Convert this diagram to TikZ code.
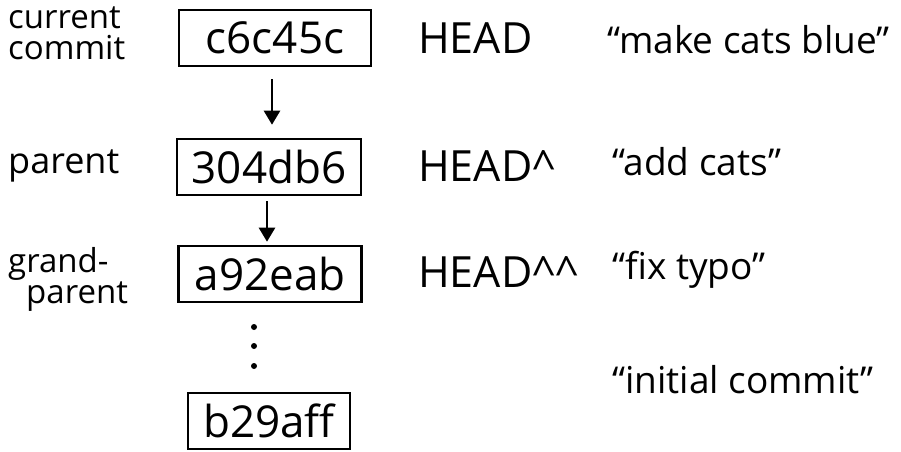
\documentclass[tikz,border=0pt]{standalone}
\usepackage{fontspec}
\setmainfont{Open Sans}
\usetikzlibrary{arrows.meta}
\tikzset{
  commitbox/.style={draw, line width=2.6pt, inner sep=0pt, minimum height=56pt, font=\fontsize{44}{48}\selectfont},
  sidelabel/.style={align=left, font=\fontsize{33}{31}\selectfont, inner sep=0pt},
  headlabel/.style={anchor=west, inner sep=0pt, font=\fontsize{43}{46}\selectfont},
  msglabel/.style={anchor=west, inner sep=0pt, font=\fontsize{37}{40}\selectfont},
  parentarrow/.style={line width=2.6pt, -{Triangle[length=14pt,width=16pt]}},
  dotmark/.style={circle, fill, inner sep=0pt, minimum size=6pt}
}
\begin{document}
\begin{tikzpicture}[x=1pt,y=-1pt]
\useasboundingbox (0,0) rectangle (901,451);
% commit boxes
\node[commitbox, minimum width=192pt] (c1) at (275,38) {c6c45c};
\node[commitbox, minimum width=184pt] (c2) at (269,167) {304db6};
\node[commitbox, minimum width=183pt] (c3) at (270,274) {a92eab};
\node[commitbox, minimum width=162pt] (c4) at (269,421) {b29aff};
% parent arrows (vertical)
\coordinate (ax1) at (272,0);
\coordinate (ax2) at (267,0);
\path ([yshift=-12pt]c1.south) coordinate (a1t) ([yshift=13pt]c2.north) coordinate (a1b);
\path ([yshift=-5pt]c2.south) coordinate (a2t) ([yshift=3pt]c3.north) coordinate (a2b);
\draw[parentarrow] (a1t -| ax1) -- (a1b -| ax1);
\draw[parentarrow] (a2t -| ax2) -- (a2b -| ax2);
% dots
\node[dotmark] (d1) at (254,327) {};
\node[dotmark] (d2) at (254,346) {};
\node[dotmark] (d3) at (254,366) {};
% side labels
\node[sidelabel, anchor=west] (l1) at (8,33) {current\\commit};
\node[sidelabel, anchor=west, font=\fontsize{36}{36}\selectfont] (l2) at (8,166) {parent};
\node[sidelabel, anchor=west] (l3) at (8,279) {grand-\\\hspace*{18pt}parent};
% HEAD labels
\node[headlabel] (h1) at (418,38) {HEAD};
\node[headlabel] (h2) at (418,166) {HEAD\^{}};
\node[headlabel] (h3) at (418,272) {HEAD\^{}\^{}};
% messages
\node[msglabel] (m1) at (607,40) {“make cats blue”};
\node[msglabel] (m2) at (612,162) {“add cats”};
\node[msglabel] (m3) at (612,270) {“fix typo”};
\node[msglabel] (m4) at (612,380) {“initial commit”};
\end{tikzpicture}
\end{document}
